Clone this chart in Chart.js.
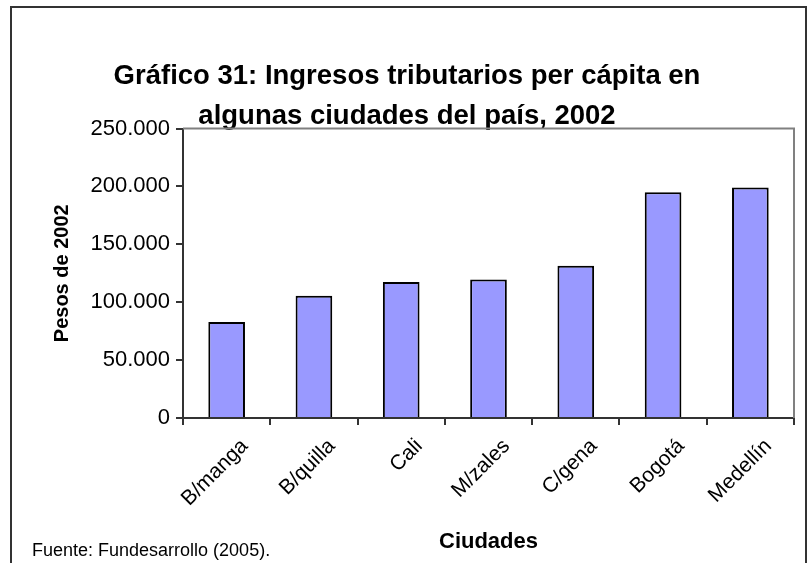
<!DOCTYPE html>
<html>
<head>
<meta charset="utf-8">
<script src="https://cdn.jsdelivr.net/npm/chart.js@4.4.0/dist/chart.umd.min.js"></script>
<style>
  html, body { margin: 0; padding: 0; background: #fff; }
  #wrap { position: relative; width: 807px; height: 563px; }
</style>
</head>
<body>
<div id="wrap"><canvas id="chart" width="807" height="563"></canvas></div>
<script>
// Gráfico 31: ingresos tributarios per cápita, 2002
const ciudades = ['B/manga', 'B/quilla', 'Cali', 'M/zales', 'C/gena', 'Bogotá', 'Medellín'];
const ingresos = [83000, 105500, 117500, 119500, 131500, 195000, 199000];
const yTicks = [0, 50000, 100000, 150000, 200000, 250000];
const titulo = ['Gráfico 31: Ingresos tributarios per cápita en', 'algunas ciudades del país, 2002'];
const fuente = 'Fuente: Fundesarrollo (2005).';

const FONT = "'Liberation Sans', Arial, sans-serif";

// miles con punto: 250000 -> 250.000
function fmt(v) {
  return String(v).replace(/\B(?=(\d{3})+(?!\d))/g, '.');
}

// marco exterior, borde gris del área de trazado y nota de fuente
const decor = {
  id: 'decor',
  beforeDraw(chart) {
    const ctx = chart.ctx;
    ctx.save();
    ctx.strokeStyle = '#333';
    ctx.lineWidth = 2;
    ctx.strokeRect(11, 7, 795, 600);
    ctx.restore();
  },
  afterDraw(chart) {
    const { ctx, chartArea: a } = chart;
    ctx.save();
    ctx.strokeStyle = '#808080';
    ctx.lineWidth = 2;
    ctx.beginPath();
    ctx.moveTo(a.left, a.top);
    ctx.lineTo(a.right, a.top);
    ctx.lineTo(a.right, a.bottom);
    ctx.stroke();
    ctx.fillStyle = '#000';
    ctx.font = '18px ' + FONT;
    ctx.textBaseline = 'middle';
    ctx.fillText(fuente, 32, 551);
    ctx.restore();
  }
};

new Chart(document.getElementById('chart'), {
  type: 'bar',
  data: {
    labels: ciudades,
    datasets: [{
      data: ingresos,
      backgroundColor: '#9999ff',
      borderColor: '#000',
      borderWidth: 2,
      barPercentage: 0.42,
      categoryPercentage: 1
    }]
  },
  options: {
    responsive: false,
    animation: false,
    layout: { padding: { left: 20, right: 13, top: 0, bottom: 0 } },
    plugins: {
      legend: { display: false },
      tooltip: { enabled: false },
      title: {
        display: true,
        text: titulo[0],
        color: '#000',
        font: { family: FONT, size: 27.5, weight: 'bold', lineHeight: 0.9 },
        padding: { top: 64, bottom: 0 }
      },
      subtitle: {
        display: true,
        text: titulo[1],
        color: '#000',
        font: { family: FONT, size: 27.5, weight: 'bold', lineHeight: 0.9 },
        padding: { top: 15, bottom: 0 }
      }
    },
    scales: {
      x: {
        offset: true,
        grid: { offset: true, drawOnChartArea: false, tickLength: 7, color: '#333', lineWidth: 2 },
        border: { color: '#333', width: 2 },
        ticks: {
          color: '#000',
          font: { family: FONT, size: 21 },
          minRotation: 45,
          maxRotation: 45,
          autoSkip: false,
          padding: 9,
          labelOffset: 18
        },
        title: {
          display: true,
          text: 'Ciudades',
          color: '#000',
          font: { family: FONT, size: 22, weight: 'bold' },
          padding: { top: 6, bottom: 8 }
        },
        afterFit(scale) { scale.height = 145; }
      },
      y: {
        min: 0,
        max: 250000,
        afterBuildTicks(scale) { scale.ticks = yTicks.map(v => ({ value: v })); },
        grid: { drawOnChartArea: false, tickLength: 7, color: '#333', lineWidth: 2 },
        border: { color: '#333', width: 2 },
        ticks: {
          color: '#000',
          font: { family: FONT, size: 22 },
          padding: 6,
          callback: (v) => fmt(v)
        },
        title: {
          display: true,
          text: 'Pesos de 2002',
          color: '#000',
          font: { family: FONT, size: 20, weight: 'bold' },
          padding: { top: 30, bottom: 0 }
        },
        afterFit(scale) { scale.width = 163; }
      }
    }
  },
  plugins: [decor]
});
</script>
</body>
</html>
